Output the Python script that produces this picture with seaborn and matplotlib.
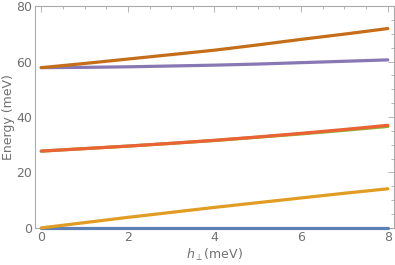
import numpy as np
import pandas as pd
import matplotlib
matplotlib.use("Agg")
import matplotlib.pyplot as plt
import seaborn as sns
from matplotlib.ticker import MultipleLocator

sns.set_style("white")
plt.rcParams['font.family'] = ['DejaVu Sans']

# field values (meV) and energy levels
h_perp = [0, 1, 2, 3, 4, 5, 6, 7, 8]
level_1 = [0, 0, 0, 0, 0, 0, 0, 0, 0]
level_2 = [0, 1.9, 3.8, 5.6, 7.4, 9.1, 10.8, 12.5, 14.1]
level_3 = [27.7, 28.6, 29.5, 30.5, 31.5, 32.7, 33.9, 35.2, 36.6]
level_4 = [27.7, 28.6, 29.5, 30.5, 31.6, 32.8, 34.1, 35.5, 37.0]
level_5 = [57.8, 57.9, 58.1, 58.4, 58.7, 59.1, 59.6, 60.1, 60.6]
level_6 = [57.8, 59.3, 60.9, 62.5, 64.1, 66.0, 68.0, 69.9, 71.9]

levels = [level_1, level_2, level_3, level_4, level_5, level_6]
colors = ["#5E81B5", "#E19C24", "#8FB032", "#EB6235", "#8778B3", "#C56E1A"]

df = pd.DataFrame({"h": h_perp * len(levels),
                   "E": sum(levels, []),
                   "level": np.repeat(range(len(levels)), len(h_perp))})

fig, ax = plt.subplots(figsize=(3.95, 2.65), dpi=100)
sns.lineplot(data=df, x="h", y="E", hue="level", palette=colors,
             linewidth=2.3, legend=False, ax=ax, clip_on=False, zorder=3)

ax.set_xlim(-0.14, 8.14)
ax.set_ylim(0, 80)
ax.xaxis.set_major_locator(MultipleLocator(2))
ax.xaxis.set_minor_locator(MultipleLocator(0.5))
ax.yaxis.set_major_locator(MultipleLocator(20))
ax.yaxis.set_minor_locator(MultipleLocator(5))

grey = "#707070"
for s in ax.spines.values():
    s.set_color("#aaaaaa")
    s.set_linewidth(0.8)
ax.tick_params(which="both", direction="in", top=True, right=True,
               color="#aaaaaa", labelcolor=grey, labelsize=9, width=0.6)
ax.tick_params(which="major", length=4, pad=2)
ax.tick_params(which="minor", length=2)

ax.set_xlabel(r"$h_{\perp}$(meV)", color=grey, fontsize=9, labelpad=2)
ax.set_ylabel("Energy (meV)", color=grey, fontsize=9, labelpad=1)

plt.subplots_adjust(left=0.089, right=0.997, top=0.977, bottom=0.14)
plt.savefig("out.png", dpi=100)
